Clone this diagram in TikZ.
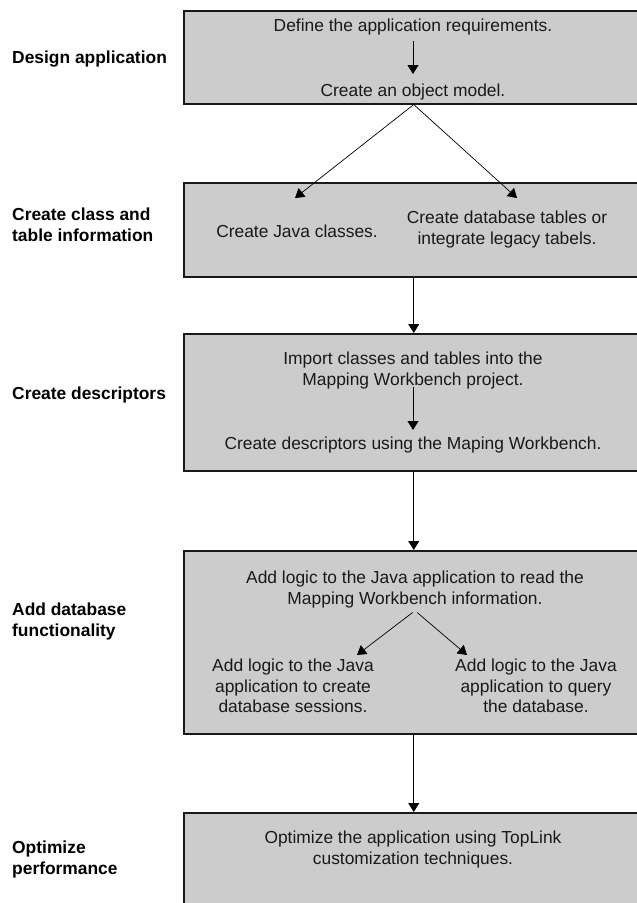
\documentclass[tikz,border=0pt]{standalone}
\usepackage{fontspec}
\setmainfont{Liberation Sans}
\usetikzlibrary{arrows.meta}
\begin{document}
\begin{tikzpicture}[x=1pt,y=-1pt,
  box/.style={draw=black!90, line width=1.5pt, fill=black!20, anchor=north west, minimum width=460pt, inner sep=0pt},
  txt/.style={inner sep=0pt, align=center, anchor=north, font=\fontsize{17.4}{20.5}\selectfont, execute at begin node=\strut, execute at end node=\strut, text=black!90},
  lbl/.style={inner sep=0pt, align=left, anchor=north west, font=\fontsize{17.4}{20.5}\selectfont\bfseries, execute at begin node=\strut},
  arr/.style={line width=0.9pt, -{Triangle[width=11pt,length=9pt]}},
  diag/.style={line width=0.7pt, -{Triangle[width=11pt,length=9pt]}}]
\useasboundingbox (0,0) rectangle (637,903);
\clip (0,0) rectangle (637,903);

% boxes
\node[box, minimum height=93pt]  (b1) at (183,10)  {};
\node[box, minimum height=94pt]  (b2) at (183,182) {};
\node[box, minimum height=137pt] (b3) at (183,333) {};
\node[box, minimum height=183pt] (b4) at (183,550) {};
\node[box, minimum height=110pt] (b5) at (183,812) {};

% left labels
\node[lbl] (l1) at (12,49)  {Design application};
\node[lbl] (l2) at (12,208) {Create class and\\table information};
\node[lbl] (l3) at (12,385) {Create descriptors};
\node[lbl] (l4) at (12,603) {Add database\\functionality};
\node[lbl] (l5) at (12,841) {Optimize\\performance};

% box 1
\node[txt] (t1) at (413,17) {Define the application requirements.};
\node[txt] (t2) at (413,82) {Create an object model.};
\draw[arr, shorten <=3pt, shorten >=8pt] (t1.south) -- (t2.north);

% box 2
\node[txt] (j2) at (297,223) {Create Java classes.};
\node[txt] (d2) at (507,211) {Create database tables or\\integrate legacy tabels.};
\coordinate (jtip) at (295,198);
\coordinate (dtip) at (517,198);
\draw[diag] (b1.south) -- (jtip);
\draw[diag] (b1.south) -- (dtip);

% box 3
\node[txt] (i3) at (413,352) {Import classes and tables into the\\Mapping Workbench project.};
\node[txt] (c3) at (413,435) {Create descriptors using the Maping Workbench.};
\draw[arr, shorten <=-5pt, shorten >=5pt] (i3.south) -- (c3.north);

% box 4
\node[txt] (r4) at (415,571) {Add logic to the Java application to read the\\Mapping Workbench information.};
\node[txt] (s4) at (293,659) {Add logic to the Java\\application to create\\database sessions.};
\node[txt] (q4) at (536,659) {Add logic to the Java\\application to query\\the database.};
\coordinate (stip) at (357,655);
\coordinate (qtip) at (467,655);
\draw[diag, shorten <=3pt] (r4.south) -- (stip);
\draw[diag, shorten <=3pt] (r4.south) -- (qtip);

% box 5
\node[txt] (o5) at (413,831) {Optimize the application using TopLink\\customization techniques.};

% connectors between boxes
\draw[arr] (b2.south) -- (b3.north);
\draw[arr] (b3.south) -- (b4.north);
\draw[arr] (b4.south) -- (b5.north);
\end{tikzpicture}
\end{document}
